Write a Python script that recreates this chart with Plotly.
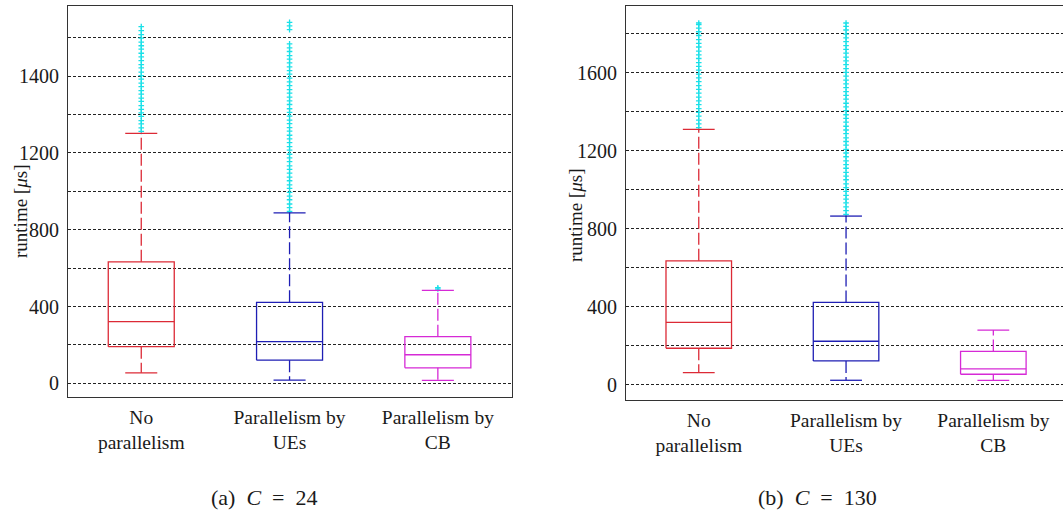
import plotly.graph_objects as go

# ---- data -------------------------------------------------------------
CATEGORIES = ["No<br>parallelism", "Parallelism by<br>UEs", "Parallelism by<br>CB"]
COLORS = ["#dc2a36", "#1e1eb4", "#d62ad6"]
OUTLIER_COLOR = "#19e0e8"

# (a) C = 24
A_Q1 = [191, 121, 81]
A_MED = [321, 217, 149]
A_Q3 = [633, 422, 243]
A_LOW = [55, 17, 16]
A_HIGH = [1302, 888, 484]
A_OUTLIERS = [
    [1312, 1330, 1351, 1368, 1390, 1409, 1427, 1446, 1468, 1485, 1506, 1524,
     1545, 1563, 1584, 1602, 1621, 1643, 1660, 1681, 1700, 1719, 1740, 1758,
     1777, 1798, 1816, 1837, 1858],
    [895, 915, 934, 956, 975, 994, 1015, 1034, 1055, 1074, 1095, 1114, 1133,
     1155, 1174, 1193, 1214, 1233, 1254, 1273, 1292, 1313, 1332, 1352, 1371,
     1392, 1411, 1430, 1452, 1471, 1490, 1511, 1530, 1550, 1570, 1589, 1610,
     1629, 1648, 1669, 1688, 1707, 1728, 1747, 1768, 1842, 1861, 1880],
    [491, 498],
]
A_TICKS = [0, 200, 400, 600, 800, 1000, 1200, 1400, 1600, 1800]
A_TICKTEXT = ["0", "", "400", "", "800", "", "1200", "", "1400", ""]

# (b) C = 130
B_Q1 = [188, 123, 55]
B_MED = [321, 224, 82]
B_Q3 = [636, 423, 172]
B_LOW = [63, 24, 24]
B_HIGH = [1309, 865, 281]
B_OUTLIERS = [
    [1318, 1337, 1356, 1377, 1396, 1415, 1436, 1455, 1474, 1495, 1514, 1533,
     1554, 1573, 1592, 1613, 1632, 1651, 1672, 1691, 1710, 1731, 1750, 1769,
     1790, 1809, 1828, 1846, 1854],
    [874, 893, 912, 933, 952, 971, 992, 1011, 1030, 1051, 1070, 1089, 1110,
     1129, 1148, 1169, 1188, 1207, 1228, 1247, 1266, 1287, 1306, 1325, 1346,
     1365, 1384, 1405, 1424, 1443, 1464, 1483, 1502, 1523, 1542, 1561, 1582,
     1601, 1620, 1641, 1660, 1679, 1700, 1719, 1738, 1759, 1778, 1797, 1818,
     1837, 1854],
    [],
]
B_TICKS = [0, 200, 400, 600, 800, 1000, 1200, 1400, 1600, 1800]
B_TICKTEXT = ["0", "", "400", "", "800", "", "1200", "", "1600", ""]

W, H = 1063, 516
FONT = "Liberation Serif"
BOX_HALF = 0.2225
CAP_HALF = 0.108


def add_panel(fig, xa, ya, q1, med, q3, low, high, outliers):
    for i, col in enumerate(COLORS):
        if outliers[i]:
            fig.add_trace(go.Scatter(
                x=[i] * len(outliers[i]), y=outliers[i], mode="markers",
                marker=dict(symbol="cross-thin", size=4, color=OUTLIER_COLOR,
                            line=dict(color=OUTLIER_COLOR, width=1.3)),
                xaxis=xa, yaxis=ya, hoverinfo="skip"))
        line = dict(color=col, width=1.3)
        # whiskers (dashed)
        fig.add_trace(go.Scatter(
            x=[i, i, None, i, i], y=[q3[i], high[i], None, q1[i], low[i]],
            mode="lines", line=dict(color=col, width=1.3, dash="12px,4px"),
            xaxis=xa, yaxis=ya, hoverinfo="skip"))
        # caps
        fig.add_trace(go.Scatter(
            x=[i - CAP_HALF, i + CAP_HALF, None, i - CAP_HALF, i + CAP_HALF],
            y=[high[i], high[i], None, low[i], low[i]],
            mode="lines", line=line, xaxis=xa, yaxis=ya, hoverinfo="skip"))
        # box
        fig.add_trace(go.Scatter(
            x=[i - BOX_HALF, i + BOX_HALF, i + BOX_HALF, i - BOX_HALF, i - BOX_HALF],
            y=[q1[i], q1[i], q3[i], q3[i], q1[i]],
            mode="lines", line=line, xaxis=xa, yaxis=ya, hoverinfo="skip"))
        # median
        fig.add_trace(go.Scatter(
            x=[i - BOX_HALF, i + BOX_HALF], y=[med[i], med[i]],
            mode="lines", line=line, xaxis=xa, yaxis=ya, hoverinfo="skip"))


fig = go.Figure()
add_panel(fig, "x", "y", A_Q1, A_MED, A_Q3, A_LOW, A_HIGH, A_OUTLIERS)
add_panel(fig, "x2", "y2", B_Q1, B_MED, B_Q3, B_LOW, B_HIGH, B_OUTLIERS)

tickfont = dict(family=FONT, size=20, color="#1a1a1a")
xcommon = dict(tickvals=[0, 1, 2], ticktext=CATEGORIES, showgrid=False,
               zeroline=False, showline=True, mirror=True, linecolor="#333",
               linewidth=1.2, ticks="", ticklabelstandoff=2,
               tickfont=dict(family=FONT, size=19.5, color="#1a1a1a"))
ycommon = dict(showgrid=True, gridcolor="#222", gridwidth=1, griddash="3px,2px",
               zeroline=False, showline=True, linecolor="#333", linewidth=1.2,
               ticks="", tickfont=tickfont, ticklabelstandoff=4)

fig.update_layout(
    width=W, height=H, showlegend=False,
    margin=dict(l=0, r=0, t=0, b=0),
    paper_bgcolor="white", plot_bgcolor="white",
    xaxis=dict(domain=[68 / W, 512 / W], range=[-0.494, 2.5], anchor="y", **xcommon),
    yaxis=dict(domain=[1 - 397 / H, 1 - 6 / H], range=[-71, 1965], anchor="x",
               tickvals=A_TICKS, ticktext=A_TICKTEXT, mirror=True, **ycommon),
    xaxis2=dict(domain=[626 / W, 1.0], range=[-0.494, 2.473], anchor="y2", **xcommon),
    yaxis2=dict(domain=[1 - 400 / H, 1 - 6 / H], range=[-77, 1941], anchor="x2",
                tickvals=B_TICKS, ticktext=B_TICKTEXT, mirror=False, **ycommon),
)

ytitle = "runtime [<i>μ</i>s]"
for xc, yc in [(20, 212), (575, 216)]:
    fig.add_annotation(text=ytitle, x=xc / W, y=1 - yc / H, xref="paper", yref="paper",
                       textangle=-90, showarrow=False, xanchor="center", yanchor="middle",
                       font=dict(family=FONT, size=19, color="#1a1a1a"))
for txt, xc in [("(a)  <i>C</i>  =  24", 264), ("(b)  <i>C</i>  =  130", 817)]:
    fig.add_annotation(text=txt, x=xc / W, y=1 - 497 / H, xref="paper", yref="paper",
                       showarrow=False, xanchor="center", yanchor="middle",
                       font=dict(family=FONT, size=22, color="#1a1a1a"))

fig.write_html("out.html", config={"displayModeBar": False},
               post_script="document.body.style.margin='0';")
